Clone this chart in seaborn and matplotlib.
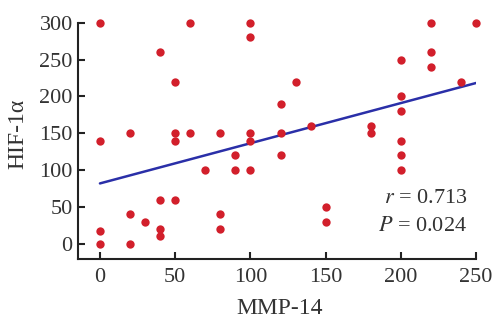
import numpy as np
import pandas as pd
import seaborn as sns
import matplotlib
matplotlib.use("Agg")
import matplotlib.pyplot as plt

# valores
mmp14 = [0, 0, 0, 0,
         20, 20, 20,
         30,
         40, 40, 40, 40,
         50, 50, 50, 50,
         60, 60,
         70,
         80, 80, 80,
         90, 90,
         100, 100, 100, 100, 100,
         120, 120, 120,
         130,
         140,
         150, 150,
         180, 180,
         200, 200, 200, 200, 200, 200,
         220, 220, 220,
         240,
         250]
hif1a = [300, 140, 18, 0,
         150, 40, 0,
         30,
         260, 60, 20, 10,
         220, 150, 140, 60,
         300, 150,
         100,
         150, 40, 20,
         120, 100,
         300, 280, 150, 140, 100,
         190, 150, 120,
         220,
         160,
         50, 30,
         160, 150,
         250, 200, 180, 140, 120, 100,
         300, 260, 240,
         220,
         300]

# recta de ajuste
intercepto = 82
pendiente = 0.545

r_txt = "0.713"
p_txt = "0.024"

df = pd.DataFrame({"MMP-14": mmp14, "HIF-1α": hif1a})
xs = np.array([min(mmp14), max(mmp14)])
recta = pd.DataFrame({"x": xs, "y": intercepto + pendiente * xs})

sns.set_theme(style="ticks")
plt.rcParams['font.family'] = ['Liberation Serif', 'DejaVu Serif']
plt.rcParams['mathtext.fontset'] = 'stix'

fig = plt.figure(figsize=(4.97, 3.2), dpi=100)
ax = fig.add_axes([0.1575, 0.19, 0.8005, 0.739])

sns.scatterplot(data=df, x="MMP-14", y="HIF-1α", ax=ax, color="#d21f2b",
                s=36, linewidth=0, clip_on=False, zorder=3)
sns.lineplot(data=recta, x="x", y="y", ax=ax, color="#2a2fa8",
             linewidth=1.8, zorder=2)

ax.set_xlim(-14.4, 250)
ax.set_ylim(-20.8, 300)
ax.set_xticks([0, 50, 100, 150, 200, 250])
ax.set_yticks([0, 50, 100, 150, 200, 250, 300])

for s in ["top", "right"]:
    ax.spines[s].set_visible(False)
for s in ["left", "bottom"]:
    ax.spines[s].set_linewidth(1.5)
    ax.spines[s].set_color("#222222")
ax.tick_params(direction="in", length=5, width=1.5, colors="#222222",
               labelsize=16, labelcolor="#333333")
ax.tick_params(axis="x", pad=6)
ax.tick_params(axis="y", pad=4)

ax.set_xlabel("MMP-14", fontsize=17, color="#333333")
ax.set_ylabel("HIF-1α", fontsize=17, color="#333333")
ax.xaxis.set_label_coords(0.506, -0.165)
ax.yaxis.set_label_coords(-0.125, 0.53)

ax.text(0.977, 0.255, "$r$ = " + r_txt, transform=ax.transAxes, ha="right",
        va="center", fontsize=16, color="#333333")
ax.text(0.977, 0.138, "$P$ = " + p_txt, transform=ax.transAxes, ha="right",
        va="center", fontsize=16, color="#333333")

plt.savefig("out.png", dpi=100)
